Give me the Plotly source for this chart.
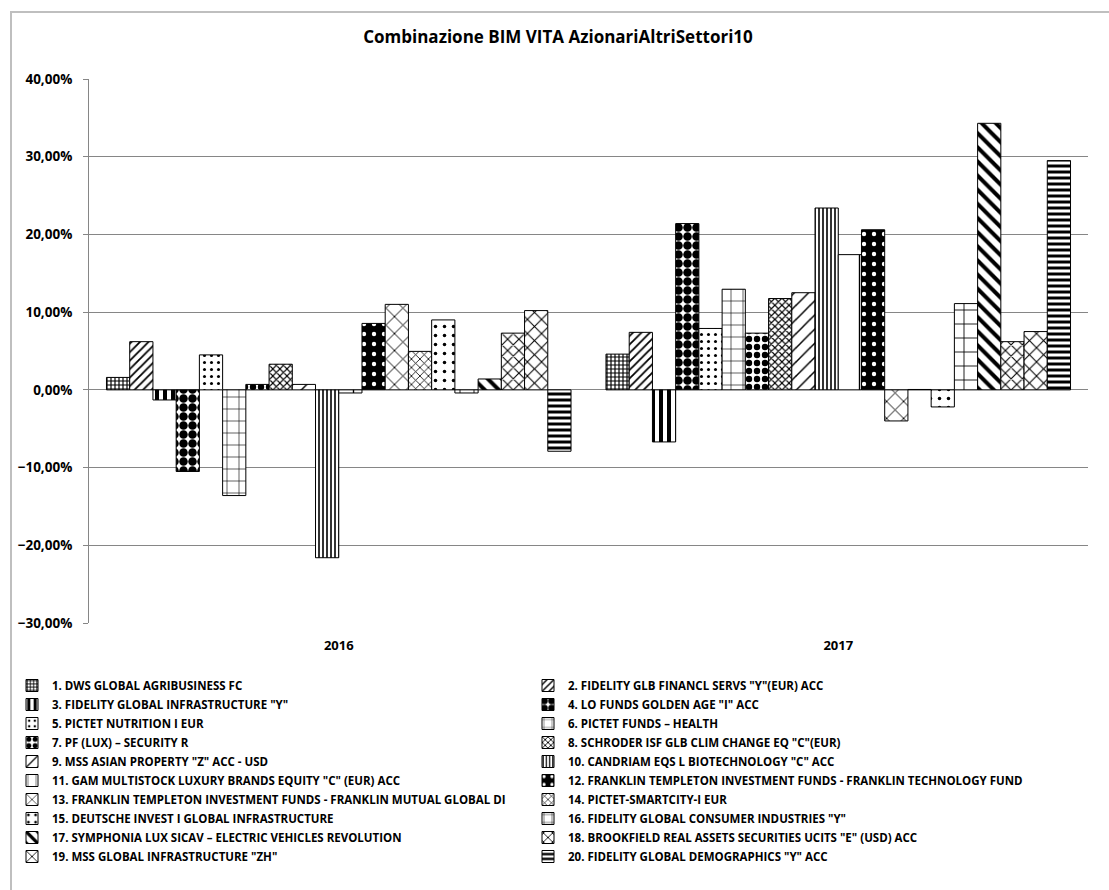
import plotly.graph_objects as go

categories = ["2016", "2017"]

series_names = [
    "1. DWS GLOBAL AGRIBUSINESS FC",
    "2. FIDELITY GLB FINANCL SERVS \"Y\"(EUR) ACC",
    "3. FIDELITY GLOBAL INFRASTRUCTURE \"Y\"",
    "4. LO FUNDS GOLDEN AGE \"I\" ACC",
    "5. PICTET NUTRITION I EUR",
    "6. PICTET FUNDS – HEALTH",
    "7. PF (LUX) – SECURITY R",
    "8. SCHRODER ISF GLB CLIM CHANGE EQ \"C\"(EUR)",
    "9. MSS ASIAN PROPERTY \"Z\" ACC - USD",
    "10. CANDRIAM EQS L BIOTECHNOLOGY \"C\" ACC",
    "11. GAM MULTISTOCK LUXURY BRANDS EQUITY \"C\" (EUR) ACC",
    "12. FRANKLIN TEMPLETON INVESTMENT FUNDS - FRANKLIN TECHNOLOGY FUND",
    "13. FRANKLIN TEMPLETON INVESTMENT FUNDS - FRANKLIN MUTUAL GLOBAL DI",
    "14. PICTET-SMARTCITY-I EUR",
    "15. DEUTSCHE INVEST I GLOBAL INFRASTRUCTURE",
    "16. FIDELITY GLOBAL CONSUMER INDUSTRIES \"Y\"",
    "17. SYMPHONIA LUX SICAV – ELECTRIC VEHICLES REVOLUTION",
    "18. BROOKFIELD REAL ASSETS SECURITIES UCITS \"E\" (USD) ACC",
    "19. MSS GLOBAL INFRASTRUCTURE \"ZH\"",
    "20. FIDELITY GLOBAL DEMOGRAPHICS \"Y\" ACC",
]

values_2016 = [1.6, 6.2, -1.3, -10.5, 4.5, -13.6, 0.7, 3.3, 0.7, -21.6,
               -0.4, 8.55, 11.0, 4.95, 9.0, -0.4, 1.4, 7.3, 10.2, -7.9]
values_2017 = [4.6, 7.4, -6.7, 21.4, 7.9, 12.95, 7.3, 11.75, 12.5, 23.4,
               17.4, 20.6, -4.0, 0.05, -2.2, 11.1, 34.3, 6.2, 7.5, 29.5]

y_tick_values = [-0.3, -0.2, -0.1, 0.0, 0.1, 0.2, 0.3, 0.4]

# pattern styles: (shape, size, solidity, bar colour, pattern colour)
styles = [
    ("+", 4, 0.5, "white", "black"),
    ("/", 6, 0.3, "white", "black"),
    ("|", 8, 0.5, "white", "black"),
    (".", 9, 0.7, "white", "black"),
    (".", 7, 0.15, "white", "black"),
    ("+", 12, 0.1, "white", "black"),
    (".", 8, 0.5, "white", "black"),
    ("x", 5, 0.4, "white", "black"),
    ("/", 10, 0.15, "white", "black"),
    ("|", 4, 0.4, "white", "black"),
    ("|", 23, 0.06, "white", "black"),
    (".", 10, 0.15, "black", "white"),
    ("x", 12, 0.15, "white", "black"),
    ("x", 6, 0.25, "white", "black"),
    (".", 9, 0.12, "white", "black"),
    ("+", 14, 0.12, "white", "black"),
    ("\\", 10, 0.4, "white", "black"),
    ("x", 8, 0.25, "white", "black"),
    ("x", 10, 0.2, "white", "black"),
    ("-", 6, 0.5, "white", "black"),
]

FONT = "Open Sans"

fig = go.Figure()
for i, name in enumerate(series_names):
    shape, size, sol, bg, fg = styles[i]
    fig.add_trace(go.Bar(
        x=categories,
        y=[values_2016[i] / 100, values_2017[i] / 100],
        name=name,
        marker=dict(
            color=bg,
            line=dict(color="black", width=1),
            pattern=dict(shape=shape, size=size, solidity=sol,
                         bgcolor=bg, fgcolor=fg, fillmode="replace"),
        ),
    ))

zero_pos = 0.3 / 0.7

fig.update_layout(
    width=1109, height=890,
    paper_bgcolor="white", plot_bgcolor="white",
    separators=",.",
    barmode="group", bargap=0.07, bargroupgap=0,
    margin=dict(l=89, r=21, t=79, b=267, autoexpand=False),
    font=dict(family=FONT, size=11, color="black", weight="bold"),
    title=dict(text="Combinazione BIM VITA AzionariAltriSettori10",
               x=(558 - 89) / 999, xref="paper", xanchor="center",
               y=1 - 37 / 890, yref="container", yanchor="middle",
               font=dict(family=FONT, size=17, color="black", weight="bold")),
    xaxis=dict(
        type="category", range=[-0.5, 1.5],
        showgrid=False, showline=False, zeroline=False,
        ticks="", ticklabelstandoff=13,
        tickfont=dict(family=FONT, size=13, color="black", weight="bold"),
    ),
    xaxis2=dict(
        overlaying="x", anchor="free", position=zero_pos,
        range=[-0.5, 1.5], tickvals=[-0.5, 0.5, 1.5],
        showticklabels=False, showgrid=False, zeroline=False,
        showline=True, linecolor="#868686", linewidth=1,
        ticks="outside", ticklen=4, tickcolor="#868686",
    ),
    yaxis=dict(
        range=[-0.3, 0.4], tickvals=y_tick_values, tickformat=".2%",
        showgrid=True, gridcolor="#868686", gridwidth=1,
        showline=True, linecolor="#868686", linewidth=1,
        ticks="outside", ticklen=5, tickcolor="#868686",
        zeroline=False,
        tickfont=dict(family=FONT, size=13.5, color="black", weight="bold"),
        ticklabelstandoff=8,
    ),
    legend=dict(
        orientation="h",
        x=(12 - 89) / 999, xanchor="left",
        y=-(671 - 623) / 544, yanchor="top",
        entrywidth=471, entrywidthmode="pixels",
        itemwidth=30,
        font=dict(family=FONT, size=11.5, color="black", weight="bold"),
        bgcolor="rgba(0,0,0,0)",
        traceorder="normal",
    ),
    showlegend=True,
)

# outer chart border (left and top edges visible)
fig.add_shape(type="rect", xref="paper", yref="paper",
              x0=(11 - 89) / 999, x1=(1140 - 89) / 999,
              y0=-(930 - 623) / 544, y1=(623 - 12) / 544,
              line=dict(color="#BFBFBF", width=2), fillcolor="rgba(0,0,0,0)",
              layer="below")

fig.write_html(
    "out.html",
    config={"displayModeBar": False},
    post_script="document.body.style.margin='0';document.body.style.overflow='hidden';",
)
